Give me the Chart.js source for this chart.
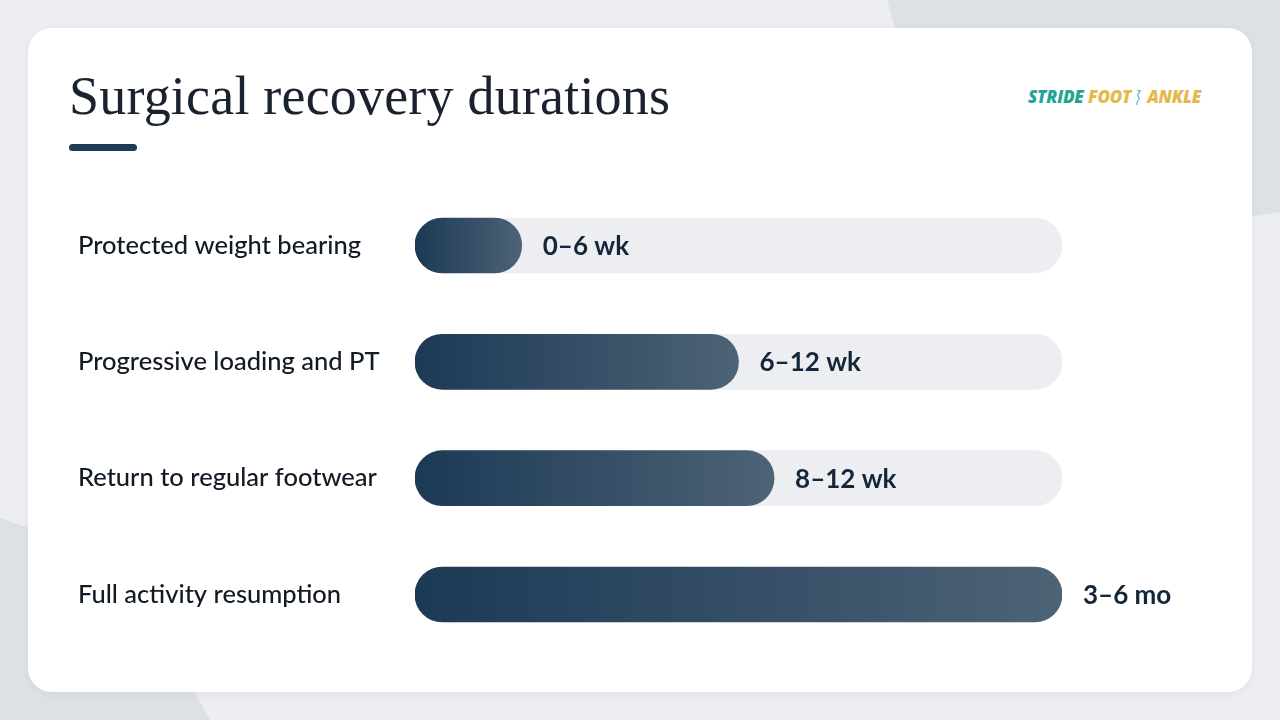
<!DOCTYPE html>
<html>
<head>
<meta charset="utf-8">
<script src="https://cdn.jsdelivr.net/npm/chart.js@4.4.1/dist/chart.umd.min.js"></script>
<style>
  html, body { margin: 0; padding: 0; }
  body { width: 1280px; height: 720px; position: relative; overflow: hidden; background: #eceef1; font-family: 'Lato', sans-serif; }
  .shape { position: absolute; inset: 0; }
  .shape.tr { background: #dde1e5; clip-path: polygon(887px 0, 1280px 0, 1280px 212px, 960px 260px); }
  .shape.bl { background: #dde1e5; clip-path: polygon(0 518px, 120px 560px, 210px 720px, 0 720px); }
  .card { position: absolute; left: 28px; top: 28px; width: 1224px; height: 664px; background: #fff; border-radius: 24px; box-shadow: 0 2px 10px rgba(30, 50, 70, 0.06); }
  h1 { position: absolute; left: 69px; top: 66px; margin: 0; font-family: 'Liberation Serif', serif; font-weight: 400; font-size: 54px; line-height: 60px; color: #1a2230; letter-spacing: 0.2px; }
  .rule { position: absolute; left: 69px; top: 144px; width: 68px; height: 7px; border-radius: 4px; background: #1d3a57; }
  .logo { position: absolute; left: 1028px; top: 85px; font-family: 'Open Sans', sans-serif; font-weight: 800; font-style: italic; font-size: 17px; letter-spacing: -0.2px; white-space: nowrap; }
  .logo .a { color: #1fa596; }
  .logo .b { color: #e5b84b; }
  .logo svg { vertical-align: -3px; margin: 0 3px; }
  #wrap { position: absolute; left: 78px; top: 172px; width: 1162px; height: 496px; }
</style>
</head>
<body>
<div class="shape tr"></div>
<div class="shape bl"></div>
<div class="card"></div>
<h1>Surgical recovery durations</h1>
<div class="rule"></div>
<div class="logo"><span class="a">STRIDE</span> <span class="b">FOOT</span><svg width="10" height="17" viewBox="0 0 10 17"><path d="M3 1 C6 2 6 4 4 5 C2 6 6 8 5 10 C4 12 2 13 3 16" stroke="#5fb8c4" stroke-width="1.2" fill="none"/><circle cx="6" cy="2" r="1" fill="#5fb8c4"/></svg><span class="b">ANKLE</span></div>
<div id="wrap"><canvas id="chart"></canvas></div>
<script>
const categories = ['Protected weight bearing', 'Progressive loading and PT', 'Return to regular footwear', 'Full activity resumption'];
const durations = [16.5, 50, 55.5, 100];
const durationLabels = ['0–6 wk', '6–12 wk', '8–12 wk', '3–6 mo'];
const trackValues = [100, 100, 100, 100];

const valueLabels = {
    id: 'valueLabels',
    afterDatasetsDraw(chart) {
        const ctx = chart.ctx;
        const meta = chart.getDatasetMeta(0);
        ctx.save();
        ctx.font = '700 26px Lato, sans-serif';
        ctx.fillStyle = '#14263a';
        ctx.textBaseline = 'middle';
        ctx.textAlign = 'left';
        meta.data.forEach((bar, i) => {
            ctx.fillText(durationLabels[i], bar.x + 21, bar.y + 1);
        });
        ctx.restore();
    }
};

function barGradient(c) {
    const chart = c.chart;
    if (!chart.chartArea) return '#1e3a56';
    const x = chart.scales.x;
    const x0 = x.getPixelForValue(0);
    const x1 = x.getPixelForValue(durations[c.dataIndex]);
    const g = chart.ctx.createLinearGradient(x0, 0, x1, 0);
    g.addColorStop(0, '#1c3955');
    g.addColorStop(1, '#4d6376');
    return g;
}

new Chart(document.getElementById('chart'), {
    type: 'bar',
    data: {
        labels: categories,
        datasets: [
            { data: durations, backgroundColor: barGradient, borderRadius: 28, borderSkipped: false, barThickness: 55, grouped: false, order: 0 },
            { data: trackValues, backgroundColor: '#edeef1', borderRadius: 28, borderSkipped: false, barThickness: 55, grouped: false, order: 1 }
        ]
    },
    options: {
        indexAxis: 'y', responsive: true, maintainAspectRatio: false, animation: false,
        layout: { padding: { right: 178, top: 0, bottom: 0, left: 0 } },
        scales: {
            x: { min: 0, max: 100, display: false, grid: { display: false } },
            y: {
                grid: { display: false }, border: { display: false },
                ticks: { crossAlign: 'far', color: '#121a24', font: { family: 'Lato', size: 25.5, weight: '500' }, padding: 0 },
                afterFit: (s) => { s.width = 337; }
            }
        },
        plugins: { legend: { display: false }, tooltip: { enabled: false } }
    },
    plugins: [valueLabels]
});
</script>
</body>
</html>
